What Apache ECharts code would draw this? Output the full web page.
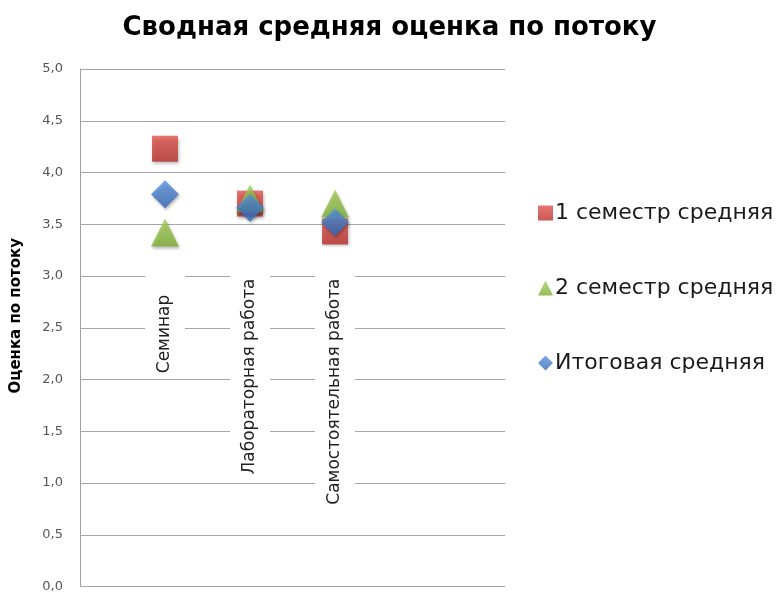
<!DOCTYPE html>
<html>
<head>
<meta charset="utf-8">
<script src="https://cdn.jsdelivr.net/npm/echarts@6/dist/echarts.min.js"></script>
<style>
  html, body { margin: 0; padding: 0; background: #fff; }
  #chart { width: 779px; height: 593px; }
</style>
</head>
<body>
<div id="chart"></div>
<script>
// Categories along the horizontal axis (placed at x = 1, 2, 3)
var categories = ['Семинар   ', 'Лабораторная работа', 'Самостоятельная работа'];
var categoryPositions = [1, 2, 3];

// Average marks per category
var semester1 = [4.23, 3.70, 3.43];
var semester2 = [3.42, 3.75, 3.70];
var finalAvg  = [3.79, 3.66, 3.52];

var seriesNames = ['1 семестр средняя', '2 семестр средняя', 'Итоговая средняя'];

function pairs(values) {
  return values.map(function (v, i) { return [categoryPositions[i], v]; });
}

function grad(top, bottom) {
  return new echarts.graphic.LinearGradient(0, 0, 0, 1, [
    { offset: 0, color: top },
    { offset: 1, color: bottom }
  ]);
}

var chart = echarts.init(document.getElementById('chart'));

var markerShadow = {
  shadowBlur: 3,
  shadowColor: 'rgba(0,0,0,0.35)',
  shadowOffsetX: 1,
  shadowOffsetY: 2
};

chart.setOption({
  animation: false,
  backgroundColor: '#ffffff',
  title: {
    text: 'Сводная средняя оценка по потоку',
    left: 'center',
    top: 10,
    textStyle: {
      fontFamily: 'DejaVu Sans',
      fontWeight: 'bold',
      fontSize: 26,
      color: '#000000'
    }
  },
  legend: {
    orient: 'vertical',
    left: 533,
    top: 197,
    itemGap: 53,
    itemWidth: 15,
    itemHeight: 15,
    textStyle: {
      fontFamily: 'DejaVu Sans',
      fontSize: 22,
      color: '#1a1a1a',
      padding: [0, 0, 0, -3]
    },
    data: [
      { name: seriesNames[0], icon: 'rect' },
      { name: seriesNames[1], icon: 'triangle' },
      { name: seriesNames[2], icon: 'diamond' }
    ]
  },
  grid: {
    left: 80,
    right: 274,
    top: 69,
    bottom: 5,
    containLabel: false
  },
  xAxis: {
    type: 'value',
    min: 0,
    max: 5,
    interval: 1,
    z: 1,
    axisLine: { show: false },
    axisTick: { show: false },
    splitLine: { show: false },
    axisLabel: {
      customValues: categoryPositions,
      rotate: 90,
      margin: -313,
      fontFamily: 'DejaVu Sans',
      fontSize: 17,
      color: '#222222',
      backgroundColor: '#ffffff',
      padding: [12, 5, 11, 5],
      formatter: function (v) {
        var idx = categoryPositions.indexOf(v);
        return idx >= 0 ? categories[idx] : '';
      }
    }
  },
  yAxis: {
    type: 'value',
    min: 0,
    max: 5,
    interval: 0.5,
    name: 'Оценка по потоку',
    nameLocation: 'middle',
    nameGap: 56,
    nameTextStyle: {
      fontFamily: 'DejaVu Sans',
      fontWeight: 'bold',
      fontSize: 15,
      color: '#000000',
      padding: [0, 0, 0, 24]
    },
    axisLine: { show: true, lineStyle: { color: '#a0a0a0', width: 1 } },
    axisTick: { show: false },
    splitLine: { show: true, lineStyle: { color: '#a6a6a6', width: 1 } },
    axisLabel: {
      margin: 17,
      fontFamily: 'DejaVu Sans',
      fontSize: 13,
      color: '#555555',
      formatter: function (v) { return v.toFixed(1).replace('.', ','); }
    }
  },
  series: [
    {
      name: seriesNames[0],
      type: 'scatter',
      symbol: 'rect',
      symbolSize: 26,
      data: pairs(semester1),
      itemStyle: Object.assign({ color: grad('#e2534c', '#b92f2a') }, markerShadow)
    },
    {
      name: seriesNames[1],
      type: 'scatter',
      symbol: 'triangle',
      symbolSize: 28,
      data: pairs(semester2),
      itemStyle: Object.assign({ color: grad('#a3cf5a', '#7fae33') }, markerShadow)
    },
    {
      name: seriesNames[2],
      type: 'scatter',
      symbol: 'diamond',
      symbolSize: 28,
      data: pairs(finalAvg),
      itemStyle: Object.assign({ color: grad('#5b95df', '#3268b4') }, markerShadow)
    }
  ]
});
</script>
</body>
</html>
